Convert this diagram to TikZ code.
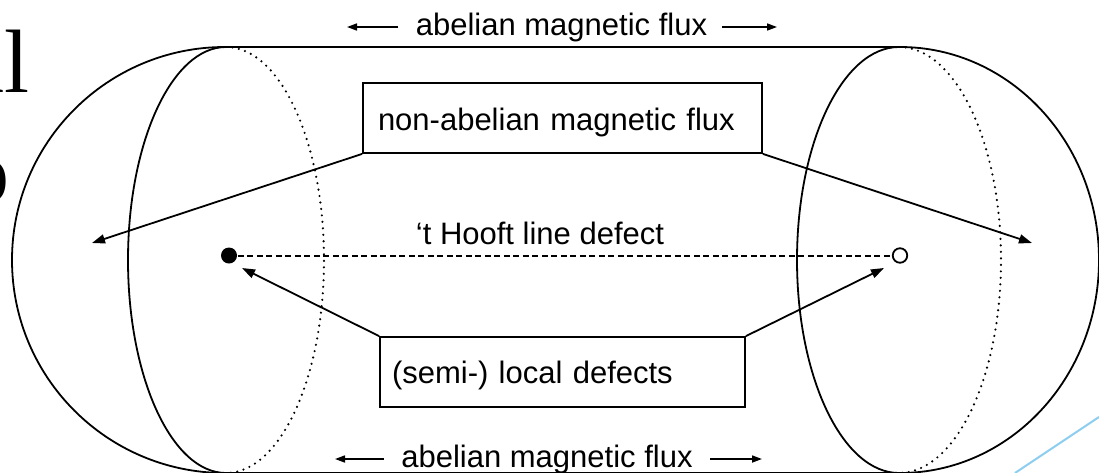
\documentclass[tikz,border=0pt]{standalone}
\usepackage{fontspec}
\setmainfont{Liberation Sans}
\newfontfamily\bigserif{Liberation Serif}
\usetikzlibrary{arrows.meta}
\definecolor{skyline}{RGB}{140,205,240}
\begin{document}
\begin{tikzpicture}[x=1pt,y=-1pt,line width=1.8pt,
  dots/.style={line width=2.4pt,dash pattern=on 0pt off 6.5pt,line cap=round},
  arr/.style={line width=1.8pt,-{Triangle[length=13pt,width=9pt]}},
  farr/.style={line width=1.6pt,-{Triangle[length=10pt,width=7pt]}},
  lbl/.style={font=\fontsize{31}{37}\selectfont,inner sep=0pt,anchor=base},
  boxnode/.style={draw,line width=1.8pt,minimum height=70pt,align=left,
    font=\fontsize{31}{37}\selectfont},
  dashline/.style={line width=2pt,dash pattern=on 6pt off 3.5pt}]
\useasboundingbox (0,0) rectangle (1099,472);
% slide remnants
\node[font=\bigserif\fontsize{90}{100}\selectfont,anchor=base east,inner sep=0pt] (bigal) at (30,92) {al};
\node[font=\bigserif\fontsize{90}{100}\selectfont,anchor=base east,inner sep=0pt] (bigo) at (10,202) {o};
\draw[skyline,line width=2pt] (1015,473) -- (1099,417);
% capsule outline
\draw (225,47) -- (900,47) arc[start angle=-90,end angle=90,x radius=199,y radius=213]
  -- (225,473) arc[start angle=90,end angle=270,radius=213] -- cycle;
% left cross-section
\draw (226,47) arc[start angle=270,end angle=90,x radius=98,y radius=213];
\draw[dots] (226,47) arc[start angle=-90,end angle=90,x radius=98,y radius=213];
% right cross-section
\draw (899,47) arc[start angle=270,end angle=90,x radius=102,y radius=213];
\draw[dots] (899,47) arc[start angle=-90,end angle=90,x radius=102,y radius=213];
% flux labels
\node[lbl] (topflux) at (561.5,35) {abelian magnetic flux};
\coordinate (tl1) at (398,27); \coordinate (tl2) at (347,27);
\coordinate (tr1) at (722,27); \coordinate (tr2) at (777,27);
\draw[farr] (tl1) -- (tl2);
\draw[farr] (tr1) -- (tr2);
\node[lbl] (botflux) at (547,467) {abelian magnetic flux};
\coordinate (bl1) at (384,459); \coordinate (bl2) at (335,459);
\coordinate (br1) at (710,459); \coordinate (br2) at (762,459);
\draw[farr] (bl1) -- (bl2);
\draw[farr] (br1) -- (br2);
% boxes
\node[boxnode,minimum width=399pt,text width=369pt,inner xsep=15pt,text height=26pt,text depth=2pt] (nonab) at (562.5,118) {non-abelian magnetic flux};
\node[boxnode,minimum width=365pt,text width=341pt,inner xsep=12pt,text height=24pt,text depth=2pt] (local) at (562.5,372) {(semi-) local defects};
% line defect
\node[circle,fill,inner sep=0pt,minimum size=16pt] (pA) at (229,255.5) {};
\node[circle,draw,fill=white,line width=1.8pt,inner sep=0pt,minimum size=14.5pt] (pB) at (900,255.5) {};
\draw[dashline] (pA) -- (pB);
\node[lbl] (hooft) at (540,244) {‘t Hooft line defect};
% arrows
\coordinate (tipL) at (92,243);
\coordinate (tipR) at (1032,243);
\coordinate (tipA) at (242,268);
\coordinate (tipB) at (884,268);
\draw[arr] (nonab.south west) -- (tipL);
\draw[arr] (nonab.south east) -- (tipR);
\draw[arr] (local.north west) -- (tipA);
\draw[arr] (local.north east) -- (tipB);
\end{tikzpicture}
\end{document}
